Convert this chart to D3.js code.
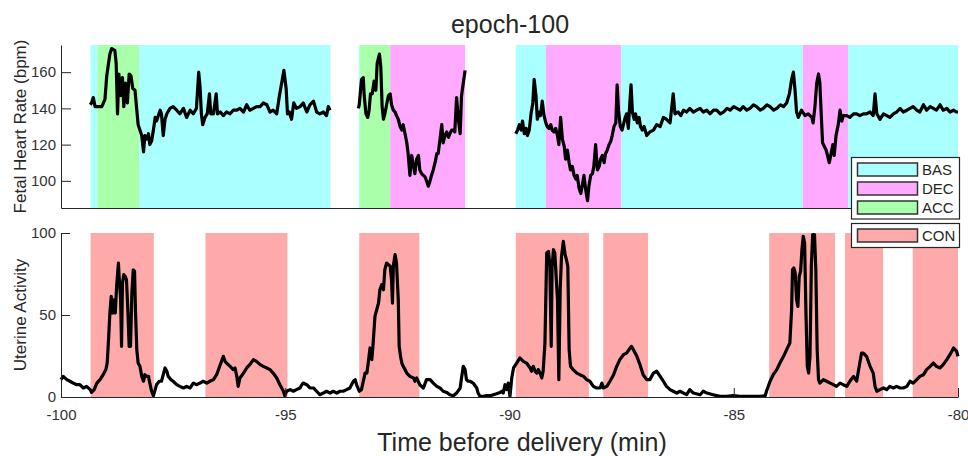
<!DOCTYPE html>
<html>
<head>
<meta charset="utf-8">
<script src="https://cdn.jsdelivr.net/npm/d3@7"></script>
<style>
  body { margin: 0; background: #fff; }
  svg { font-family: "Liberation Sans", Arial, sans-serif; }
</style>
</head>
<body>
<div id="chart"></div>
<script>
// ---- data (time in min before delivery) ----
const xTicks = [-100, -95, -90, -85, -80];
const fhrTicks = [100, 120, 140, 160];
const uaTicks = [0, 50, 100];

// FHR class episodes [start, end, class]
const fhrEpisodes = [
  [-99.34, -99.19, "BAS"], [-99.19, -98.26, "ACC"], [-98.26, -93.99, "BAS"],
  [-93.36, -93.33, "BAS"], [-93.33, -92.66, "ACC"], [-92.66, -90.99, "DEC"],
  [-89.86, -89.19, "BAS"], [-89.19, -87.51, "DEC"], [-87.51, -83.46, "BAS"],
  [-83.46, -82.45, "DEC"], [-82.45, -80.0, "BAS"]
];
// contraction episodes [start, end]
const conEpisodes = [
  [-99.34, -97.93], [-96.78, -94.95], [-93.35, -92.01], [-89.86, -88.23],
  [-87.91, -86.91], [-84.21, -82.74], [-82.52, -81.67], [-81.01, -80.0]
];

// FHR trace, three recorded pieces [t, bpm]
const fhrTrace1 = [
  [-99.35,142],[-99.32,143],[-99.28,146],[-99.24,141],[-99.17,141],[-99.09,141],[-99.02,145],
  [-98.98,158],[-98.91,170],[-98.87,173],[-98.80,172],[-98.77,165],[-98.74,137],[-98.71,159],
  [-98.67,147],[-98.63,157],[-98.60,141],[-98.56,154],[-98.52,143],[-98.48,159],[-98.44,158],
  [-98.40,151],[-98.35,150],[-98.31,139],[-98.28,131],[-98.24,128],[-98.20,125],[-98.16,116],
  [-98.13,125],[-98.09,123],[-98.05,126],[-98.02,120],[-97.98,122],[-97.94,128],[-97.90,135],
  [-97.87,133],[-97.83,136],[-97.79,139],[-97.76,137],[-97.72,125],[-97.68,134],[-97.64,137],
  [-97.57,140],[-97.50,141],[-97.42,139],[-97.35,137],[-97.27,140],[-97.20,135],[-97.12,139],
  [-97.05,137],[-96.98,140],[-96.93,160],[-96.90,152],[-96.87,137],[-96.84,131],[-96.79,135],
  [-96.74,137],[-96.69,148],[-96.66,137],[-96.60,137],[-96.54,148],[-96.51,137],[-96.45,138],
  [-96.38,136],[-96.31,138],[-96.23,137],[-96.16,139],[-96.08,139],[-96.01,140],[-95.93,138],
  [-95.86,142],[-95.79,139],[-95.71,140],[-95.64,141],[-95.56,141],[-95.49,143],[-95.41,142],
  [-95.34,138],[-95.27,139],[-95.19,137],[-95.13,147],[-95.08,154],[-95.03,161],[-94.98,151],
  [-94.95,137],[-94.91,138],[-94.86,134],[-94.81,143],[-94.75,140],[-94.67,141],[-94.60,143],
  [-94.52,138],[-94.45,142],[-94.37,144],[-94.30,138],[-94.23,137],[-94.15,138],[-94.08,136],
  [-94.04,141],[-94.00,139]
];
const fhrTrace2 = [
  [-93.37,140],[-93.35,142],[-93.30,156],[-93.26,157],[-93.24,147],[-93.20,137],[-93.16,135],
  [-93.13,139],[-93.10,148],[-93.06,148],[-93.02,155],[-92.98,150],[-92.95,165],[-92.90,170],
  [-92.87,163],[-92.84,141],[-92.81,134],[-92.78,137],[-92.74,142],[-92.70,147],[-92.66,148],
  [-92.63,142],[-92.59,139],[-92.55,138],[-92.52,136],[-92.48,134],[-92.44,130],[-92.40,128],
  [-92.37,131],[-92.33,126],[-92.29,121],[-92.26,115],[-92.22,103],[-92.18,114],[-92.14,108],
  [-92.11,104],[-92.07,112],[-92.03,114],[-92.00,106],[-91.96,104],[-91.92,103],[-91.88,102],
  [-91.85,100],[-91.81,97],[-91.77,100],[-91.74,103],[-91.70,106],[-91.66,110],[-91.62,115],
  [-91.59,115],[-91.55,123],[-91.51,131],[-91.48,121],[-91.44,125],[-91.40,127],[-91.36,124],
  [-91.33,126],[-91.29,128],[-91.25,128],[-91.22,127],[-91.18,146],[-91.14,134],[-91.10,126],
  [-91.07,147],[-91.03,154],[-90.99,161]
];
const fhrTrace3 = [
  [-89.86,126],[-89.82,128],[-89.78,131],[-89.74,128],[-89.71,133],[-89.67,126],[-89.63,129],
  [-89.60,125],[-89.56,128],[-89.52,137],[-89.48,143],[-89.45,156],[-89.41,147],[-89.38,134],
  [-89.34,138],[-89.31,136],[-89.27,144],[-89.23,136],[-89.19,132],[-89.16,130],[-89.12,129],
  [-89.08,131],[-89.05,128],[-89.01,127],[-88.97,129],[-88.93,125],[-88.90,120],[-88.86,135],
  [-88.82,123],[-88.78,119],[-88.75,112],[-88.71,117],[-88.67,110],[-88.64,106],[-88.60,108],
  [-88.56,103],[-88.52,101],[-88.49,103],[-88.45,96],[-88.41,93],[-88.38,97],[-88.34,103],
  [-88.30,95],[-88.26,89],[-88.23,97],[-88.19,103],[-88.15,104],[-88.12,108],[-88.08,120],
  [-88.04,106],[-88.00,108],[-87.97,112],[-87.93,114],[-87.89,110],[-87.86,115],[-87.82,117],
  [-87.78,120],[-87.74,122],[-87.71,125],[-87.67,130],[-87.63,132],[-87.60,153],[-87.57,139],
  [-87.53,130],[-87.49,128],[-87.46,131],[-87.42,135],[-87.39,137],[-87.35,129],[-87.31,146],
  [-87.29,153],[-87.26,138],[-87.22,134],[-87.19,137],[-87.15,132],[-87.11,135],[-87.08,130],
  [-87.04,128],[-87.00,130],[-86.94,125],[-86.87,127],[-86.79,128],[-86.72,131],[-86.64,130],
  [-86.57,135],[-86.50,134],[-86.42,132],[-86.35,148],[-86.31,137],[-86.24,138],[-86.18,136],
  [-86.12,139],[-86.05,138],[-85.98,140],[-85.90,138],[-85.83,139],[-85.75,140],[-85.68,138],
  [-85.60,139],[-85.53,137],[-85.45,139],[-85.38,139],[-85.30,137],[-85.23,138],[-85.15,140],
  [-85.08,139],[-85.00,141],[-84.93,140],[-84.86,139],[-84.79,141],[-84.71,139],[-84.64,140],
  [-84.56,142],[-84.49,141],[-84.41,139],[-84.34,140],[-84.26,142],[-84.19,141],[-84.11,139],
  [-84.04,140],[-83.96,142],[-83.89,141],[-83.82,143],[-83.76,148],[-83.71,156],[-83.67,160],
  [-83.63,149],[-83.60,138],[-83.56,135],[-83.49,139],[-83.41,136],[-83.34,137],[-83.26,135],
  [-83.23,132],[-83.19,141],[-83.15,154],[-83.11,159],[-83.08,154],[-83.05,137],[-83.02,121],
  [-82.98,119],[-82.94,117],[-82.91,114],[-82.87,110],[-82.83,115],[-82.79,120],[-82.76,114],
  [-82.72,125],[-82.67,131],[-82.63,139],[-82.59,133],[-82.56,136],[-82.48,136],[-82.41,135],
  [-82.33,137],[-82.26,137],[-82.19,136],[-82.11,137],[-82.04,137],[-81.96,138],[-81.89,136],
  [-81.85,148],[-81.81,137],[-81.74,134],[-81.66,137],[-81.59,136],[-81.52,135],[-81.44,137],
  [-81.37,138],[-81.29,140],[-81.22,138],[-81.14,139],[-81.07,140],[-81.00,141],[-80.92,139],
  [-80.85,138],[-80.77,142],[-80.70,139],[-80.62,141],[-80.55,140],[-80.48,139],[-80.40,142],
  [-80.33,139],[-80.25,140],[-80.18,138],[-80.10,139],[-80.03,138],[-80.00,138]
];

// uterine activity trace [t, value]
const uaTrace = [
  [-100.00,10.6],[-99.95,12.6],[-99.87,10.6],[-99.80,9.6],[-99.73,8.5],[-99.65,7.5],[-99.58,7.5],
  [-99.50,5.5],[-99.43,6.5],[-99.35,4.5],[-99.32,2.8],[-99.26,4.5],[-99.20,8.5],[-99.13,10.6],
  [-99.06,13.6],[-99.00,16.7],[-98.97,20.7],[-98.94,35],[-98.91,51.2],[-98.88,61.4],[-98.85,51.2],
  [-98.82,59.3],[-98.79,51.2],[-98.76,67.5],[-98.72,81.7],[-98.70,71.5],[-98.67,59.3],[-98.65,30.9],
  [-98.63,69.5],[-98.60,74.6],[-98.57,73.6],[-98.54,71.5],[-98.51,53.3],[-98.48,30.9],[-98.45,30.9],
  [-98.42,63.4],[-98.39,77.6],[-98.36,76.6],[-98.34,53.3],[-98.31,28.9],[-98.28,20.7],[-98.24,18.7],
  [-98.20,12.6],[-98.16,9.6],[-98.13,13.6],[-98.09,12.6],[-98.05,12.6],[-98.02,8.5],[-97.98,3.5],
  [-97.94,0.8],[-97.90,4.5],[-97.87,7.5],[-97.81,9.6],[-97.76,9.6],[-97.72,13.6],[-97.68,17.7],
  [-97.64,15.7],[-97.61,12.6],[-97.55,10.6],[-97.50,9.6],[-97.42,7.5],[-97.35,6.5],[-97.27,5.5],
  [-97.20,6.5],[-97.12,5.5],[-97.05,8.5],[-96.98,7.5],[-96.90,8.5],[-96.83,9.6],[-96.75,8.5],
  [-96.68,9.6],[-96.60,10.6],[-96.53,13.6],[-96.45,19.7],[-96.38,24.8],[-96.34,21.7],[-96.31,20.7],
  [-96.23,18.7],[-96.16,16.7],[-96.12,17.7],[-96.08,12.6],[-96.05,6.5],[-96.01,11.6],[-95.93,14.6],
  [-95.86,17.7],[-95.79,19.7],[-95.71,22.8],[-95.64,21.7],[-95.56,19.7],[-95.49,18.7],[-95.41,17.7],
  [-95.34,16.7],[-95.27,14.6],[-95.19,11.6],[-95.12,7.5],[-95.04,3.5],[-95.01,0.8],[-94.97,3.5],
  [-94.89,4.5],[-94.82,3.5],[-94.75,4.5],[-94.67,5.5],[-94.63,7.5],[-94.60,8.5],[-94.52,7.5],
  [-94.45,5.5],[-94.37,5.5],[-94.30,3.5],[-94.23,1.4],[-94.15,2.4],[-94.08,3.5],[-94.00,2.4],
  [-93.93,3.5],[-93.85,2.4],[-93.78,3.5],[-93.71,3.5],[-93.63,4.5],[-93.56,5.5],[-93.48,9.6],
  [-93.44,10.6],[-93.41,7.5],[-93.35,3.5],[-93.30,4.5],[-93.26,9.6],[-93.22,14.6],[-93.18,14.6],
  [-93.15,20.7],[-93.11,29.9],[-93.07,22.8],[-93.04,32.9],[-93.00,49.2],[-92.96,53.3],[-92.92,57.3],
  [-92.89,65.4],[-92.85,68.5],[-92.81,65.4],[-92.78,77.6],[-92.74,81.7],[-92.70,80.7],[-92.66,79.7],
  [-92.63,71.5],[-92.61,57.3],[-92.59,79.7],[-92.57,83.7],[-92.55,86.8],[-92.52,81.7],[-92.48,59.3],
  [-92.46,30.9],[-92.43,24.8],[-92.40,20.7],[-92.37,18.7],[-92.33,16.7],[-92.29,14.6],[-92.22,12.6],
  [-92.14,11.6],[-92.11,9.6],[-92.07,11.6],[-92.00,7.5],[-91.92,5.5],[-91.85,10.6],[-91.77,10.6],
  [-91.70,8.5],[-91.62,6.5],[-91.55,5.5],[-91.48,3.5],[-91.40,2.8],[-91.33,1.4],[-91.25,0.8],
  [-91.18,2.4],[-91.10,5.5],[-91.07,11.6],[-91.03,18.7],[-90.99,16.7],[-90.96,10.6],[-90.92,9.6],
  [-90.88,9.6],[-90.81,8.5],[-90.73,5.5],[-90.70,2.4],[-90.66,0.4],[-90.58,0.4],[-90.51,0.8],
  [-90.43,0.8],[-90.36,1.4],[-90.29,2.0],[-90.21,2.8],[-90.17,3.5],[-90.14,2.4],[-90.10,7.5],
  [-90.06,4.5],[-90.03,8.5],[-89.99,0.4],[-89.95,11.6],[-89.91,17.7],[-89.84,20.7],[-89.77,23.8],
  [-89.69,21.7],[-89.62,20.7],[-89.54,17.7],[-89.51,15.7],[-89.47,18.7],[-89.43,15.7],[-89.39,14.6],
  [-89.36,16.7],[-89.32,14.6],[-89.28,11.6],[-89.25,15.7],[-89.21,32.9],[-89.17,87.8],[-89.13,88.8],
  [-89.10,79.7],[-89.07,30.9],[-89.05,79.7],[-89.02,89.8],[-88.99,87.8],[-88.96,73.6],[-88.93,59.3],
  [-88.90,10.6],[-88.87,65.4],[-88.84,85.8],[-88.80,94.9],[-88.76,86.8],[-88.73,83.7],[-88.70,79.7],
  [-88.67,28.9],[-88.64,18.7],[-88.58,16.7],[-88.50,14.6],[-88.43,13.6],[-88.35,12.6],[-88.28,10.6],
  [-88.21,9.6],[-88.13,6.5],[-88.06,5.5],[-87.98,5.5],[-87.94,8.5],[-87.91,5.5],[-87.83,6.5],
  [-87.76,9.6],[-87.68,13.6],[-87.61,18.7],[-87.54,22.8],[-87.46,25.8],[-87.39,26.8],[-87.31,29.9],
  [-87.28,30.9],[-87.24,28.9],[-87.16,24.8],[-87.09,19.7],[-87.02,13.6],[-86.94,10.6],[-86.87,10.6],
  [-86.79,14.6],[-86.72,15.7],[-86.64,12.6],[-86.57,9.6],[-86.50,6.5],[-86.42,4.5],[-86.35,3.5],
  [-86.27,2.4],[-86.20,3.5],[-86.12,2.4],[-86.05,1.4],[-85.98,4.5],[-85.90,2.4],[-85.75,1.4],
  [-85.68,3.5],[-85.60,2.4],[-85.46,1.4],[-85.31,0.4],[-85.16,0.4],[-85.01,0.8],[-84.86,0.4],
  [-84.71,0.4],[-84.56,0.4],[-84.41,0.4],[-84.30,0.8],[-84.27,3.5],[-84.19,9.6],[-84.12,13.6],
  [-84.04,16.7],[-83.97,20.7],[-83.89,24.8],[-83.82,28.9],[-83.75,32.9],[-83.71,53.3],[-83.69,77.6],
  [-83.66,78.7],[-83.63,75.6],[-83.60,59.3],[-83.57,55.3],[-83.54,73.6],[-83.51,76.6],[-83.48,89.8],
  [-83.45,98],[-83.42,93.9],[-83.39,51.2],[-83.36,18.7],[-83.33,14.6],[-83.30,24.8],[-83.27,79.7],
  [-83.24,99],[-83.20,99],[-83.17,77.6],[-83.14,28.9],[-83.11,10.6],[-83.08,8.5],[-83.00,10.6],
  [-82.93,9.6],[-82.85,8.5],[-82.78,7.5],[-82.71,6.5],[-82.63,8.5],[-82.56,7.5],[-82.48,6.5],
  [-82.41,9.6],[-82.33,12.6],[-82.26,9.6],[-82.19,20.7],[-82.15,26.8],[-82.11,26.8],[-82.04,24.8],
  [-81.96,18.7],[-81.89,14.6],[-81.85,6.5],[-81.81,3.5],[-81.74,4.5],[-81.66,5.5],[-81.59,4.5],
  [-81.52,6.5],[-81.44,5.5],[-81.37,6.5],[-81.29,5.5],[-81.22,5.5],[-81.14,6.5],[-81.07,9.6],
  [-81.00,8.5],[-80.92,10.6],[-80.85,12.6],[-80.77,13.6],[-80.70,16.7],[-80.62,18.7],[-80.55,20.7],
  [-80.48,18.7],[-80.40,17.7],[-80.33,19.7],[-80.25,22.8],[-80.18,25.8],[-80.10,29.9],[-80.03,27.8],
  [-80.00,24.8]
];

const classColor = { BAS: "#aaffff", DEC: "#ffaaff", ACC: "#aaffaa", CON: "#ffaaaa" };
const axisColor = "#262626";

// ---- layout ----
const width = 968, height = 456;
const svg = d3.select("#chart").append("svg")
  .attr("width", width).attr("height", height);

const x = d3.scaleLinear().domain([-100, -80]).range([61, 958]);
const yFhr = d3.scaleLinear().domain([85, 175]).range([208, 45]);
const yUa = d3.scaleLinear().domain([0, 100]).range([397, 233]);

// top panel: class shading
svg.append("g")
  .selectAll("rect")
  .data(fhrEpisodes)
  .join("rect")
  .attr("x", d => x(d[0]))
  .attr("width", d => x(d[1]) - x(d[0]))
  .attr("y", yFhr(175))
  .attr("height", yFhr(85) - yFhr(175))
  .attr("fill", d => classColor[d[2]]);

// bottom panel: contraction shading
svg.append("g")
  .selectAll("rect")
  .data(conEpisodes)
  .join("rect")
  .attr("x", d => x(d[0]))
  .attr("width", d => x(d[1]) - x(d[0]))
  .attr("y", yUa(100))
  .attr("height", yUa(0) - yUa(100))
  .attr("fill", classColor.CON);

const fhrLine = d3.line().x(d => x(d[0])).y(d => yFhr(d[1]));
const uaLine = d3.line().x(d => x(d[0])).y(d => yUa(d[1]));

svg.append("g")
  .selectAll("path")
  .data([fhrTrace1, fhrTrace2, fhrTrace3])
  .join("path")
  .attr("d", fhrLine)
  .attr("fill", "none")
  .attr("stroke", "#000")
  .attr("stroke-width", 3.2)
  .attr("stroke-linejoin", "round");

svg.append("path")
  .attr("d", uaLine(uaTrace))
  .attr("fill", "none")
  .attr("stroke", "#000")
  .attr("stroke-width", 3.2)
  .attr("stroke-linejoin", "round");

// axes (MATLAB style: ticks inside, plain hyphen minus)
const plain = d => String(d);
function styleAxis(g) {
  g.selectAll(".domain").attr("stroke", axisColor);
  g.selectAll(".tick line").attr("stroke", axisColor);
  g.selectAll(".tick text").attr("fill", "#333").style("font-size", "15px")
    .style("font-family", "'Liberation Sans', Arial, sans-serif");
}

// top panel
svg.append("g")
  .attr("transform", `translate(${x(-100)},0)`)
  .call(d3.axisLeft(yFhr).tickValues(fhrTicks).tickFormat(plain)
    .tickSizeInner(-10).tickSizeOuter(0).tickPadding(5))
  .call(styleAxis);
svg.append("g")
  .attr("transform", `translate(0,${yFhr(85)})`)
  .call(d3.axisBottom(x).tickValues([]).tickSizeOuter(0))
  .call(styleAxis);

// bottom panel
svg.append("g")
  .attr("transform", `translate(${x(-100)},0)`)
  .call(d3.axisLeft(yUa).tickValues(uaTicks).tickFormat(plain)
    .tickSizeInner(-9).tickSizeOuter(0).tickPadding(5))
  .call(styleAxis);
svg.append("g")
  .attr("transform", `translate(0,${yUa(0)})`)
  .call(d3.axisBottom(x).tickValues(xTicks).tickFormat(plain)
    .tickSizeInner(-9).tickSizeOuter(0).tickPadding(12))
  .call(styleAxis);

// titles and labels
svg.append("text")
  .attr("x", 510).attr("y", 33)
  .attr("text-anchor", "middle")
  .attr("fill", "#262626")
  .style("font-size", "25px")
  .text("epoch-100");

svg.append("text")
  .attr("x", 522).attr("y", 451)
  .attr("text-anchor", "middle")
  .attr("fill", "#262626")
  .style("font-size", "25px")
  .text("Time before delivery (min)");

svg.append("text")
  .attr("transform", `translate(26,${(yFhr(85) + yFhr(175)) / 2}) rotate(-90)`)
  .attr("text-anchor", "middle")
  .attr("fill", "#262626")
  .style("font-size", "17px")
  .text("Fetal Heart Rate (bpm)");

svg.append("text")
  .attr("transform", `translate(26,${(yUa(0) + yUa(100)) / 2}) rotate(-90)`)
  .attr("text-anchor", "middle")
  .attr("fill", "#262626")
  .style("font-size", "17px")
  .text("Uterine Activity");

// legends
function legend(items, top, boxHeight) {
  const g = svg.append("g");
  g.append("rect")
    .attr("x", 851.5).attr("y", top)
    .attr("width", 108).attr("height", boxHeight)
    .attr("fill", "#fff").attr("stroke", axisColor).attr("stroke-width", 1.2);
  items.forEach((name, i) => {
    const cy = top + 12 + i * 19;
    g.append("rect")
      .attr("x", 857.5).attr("y", cy - 6.5)
      .attr("width", 60).attr("height", 13)
      .attr("fill", classColor[name]).attr("stroke", "#333").attr("stroke-width", 1.5);
    g.append("text")
      .attr("x", 922).attr("y", cy + 5.5)
      .attr("fill", "#262626")
      .style("font-size", "15px")
      .text(name);
  });
}
legend(["BAS", "DEC", "ACC"], 157.5, 61.5);
legend(["CON"], 223.5, 24);
</script>
</body>
</html>
